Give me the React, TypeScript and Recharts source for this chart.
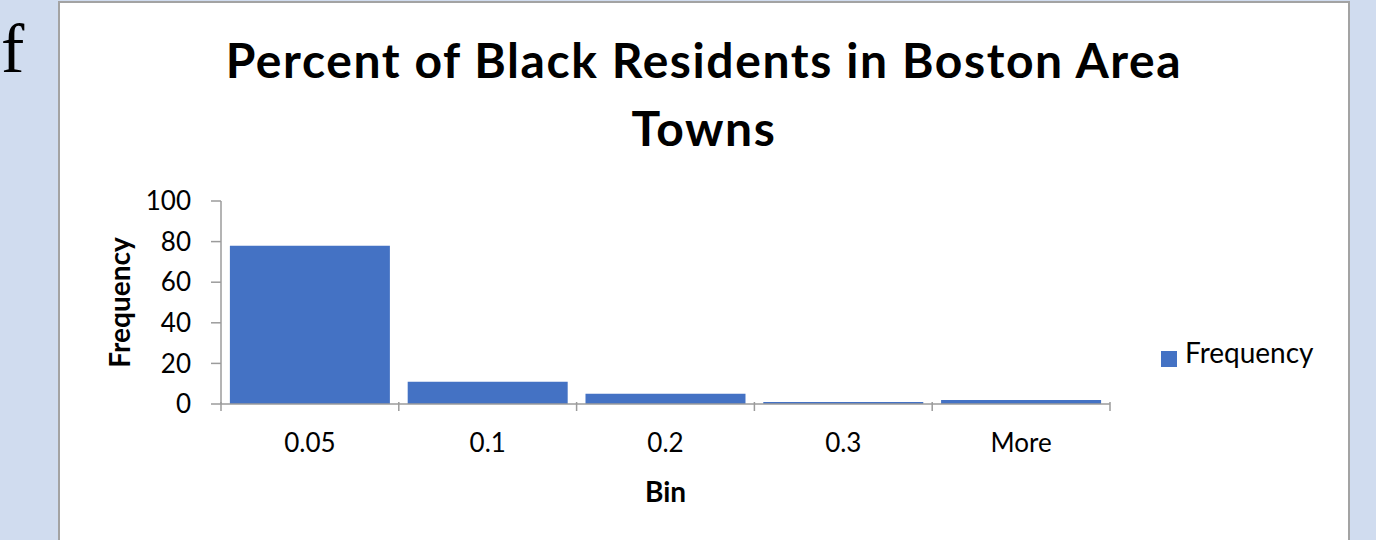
import { Bar, BarChart, Legend, XAxis, YAxis } from "recharts";

const bins = ["0.05", "0.1", "0.2", "0.3", "More"];
const frequency = [78, 11, 5, 1, 2];
const yTicks = [0, 20, 40, 60, 80, 100];

const data = bins.map((bin, i) => ({ bin, Frequency: frequency[i] }));

const AXIS = "#9b9b9b";
const BLUE = "#4472C4";
const FONT = "Lato, 'Open Sans', sans-serif";

function BinTick(props: any) {
  const { x, y, payload, index } = props;
  const half = payload?.offset ?? 88.9;
  const top = y - 10;
  return (
    <g>
      <line x1={x - half} x2={x - half} y1={top} y2={top + 9} stroke={AXIS} strokeWidth={1.5} />
      {index === bins.length - 1 && (
        <line x1={x + half} x2={x + half} y1={top} y2={top + 9} stroke={AXIS} strokeWidth={1.5} />
      )}
      <text x={x} y={y + 40} textAnchor="middle" fill="#000" fontSize={26} fontFamily={FONT}>
        {payload.value}
      </text>
    </g>
  );
}

export default function App() {
  return (
    <div
      style={{
        position: "fixed",
        left: 0,
        top: 0,
        width: 1376,
        height: 540,
        background: "#d0dcef",
        overflow: "hidden",
      }}
    >
      <div
        style={{
          position: "absolute",
          left: 1,
          top: 14,
          fontFamily: "'Liberation Serif', serif",
          fontSize: 70,
          lineHeight: "70px",
        }}
      >
        f
      </div>
      <div
        style={{
          position: "absolute",
          left: 58,
          top: 1,
          width: 1288,
          height: 560,
          background: "#fff",
          border: "2px solid #a3a3a3",
        }}
      />
      <div
        style={{
          position: "absolute",
          left: 60,
          top: 26,
          width: 1288,
          textAlign: "center",
          fontFamily: FONT,
          fontWeight: 700,
          fontSize: 48,
          letterSpacing: 1.6,
          lineHeight: "68px",
          color: "#000",
        }}
      >
        Percent of Black Residents in Boston Area
        <br />
        Towns
      </div>
      <div style={{ position: "absolute", left: 0, top: 0 }}>
        <BarChart
          width={1376}
          height={540}
          data={data}
          margin={{ top: 201, right: 266, bottom: 36, left: 19 }}
          barCategoryGap="5%"
          style={{ fontFamily: FONT }}
        >
          <XAxis
            dataKey="bin"
            height={100}
            stroke={AXIS}
            strokeWidth={1.5}
            tickLine={false}
            interval={0}
            tick={<BinTick />}
            label={{
              value: "Bin",
              position: "insideBottom",
              offset: 2,
              fill: "#000",
              fontSize: 28,
              fontWeight: 700,
            }}
          />
          <YAxis
            width={202}
            domain={[0, 100]}
            ticks={yTicks}
            interval={0}
            stroke={AXIS}
            strokeWidth={1.5}
            tickSize={10}
            tickMargin={20}
            tick={{ fill: "#000", fontSize: 26 }}
            label={{
              value: "Frequency",
              angle: -90,
              position: "center",
              fill: "#000",
              fontSize: 28,
              fontWeight: 700,
            }}
          />
          <Legend
            align="center"
            verticalAlign="middle"
            layout="horizontal"
            iconType="square"
            iconSize={16}
            wrapperStyle={{ left: 1161, top: 335, width: "auto", height: "auto" }}
            formatter={(value: string) => (
              <span style={{ color: "#000", fontSize: 28, marginLeft: 4 }}>{value}</span>
            )}
          />
          <Bar dataKey="Frequency" fill={BLUE} isAnimationActive={false} />
        </BarChart>
      </div>
    </div>
  );
}
